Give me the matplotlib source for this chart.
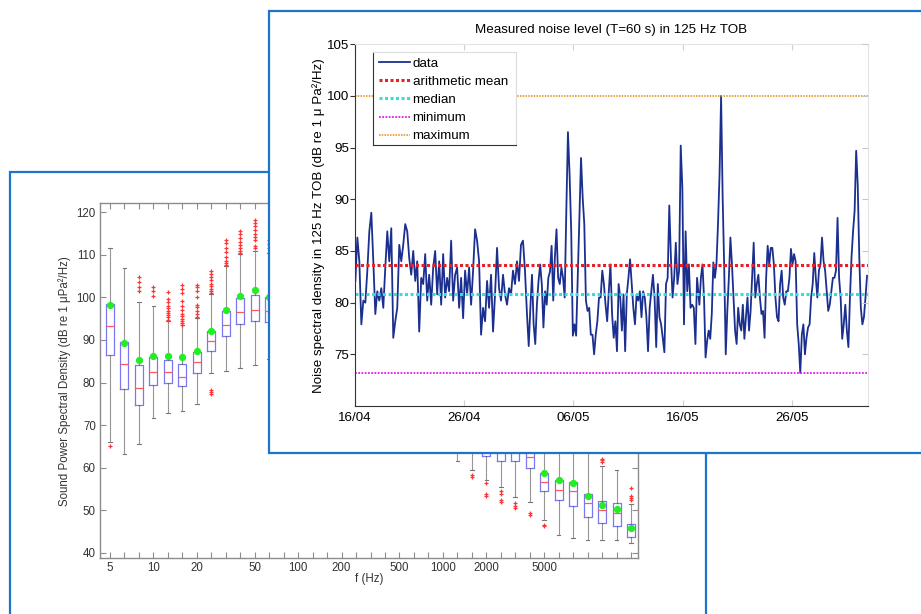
import datetime as dt
import numpy as np
import matplotlib
matplotlib.use('Agg')
import matplotlib.pyplot as plt
import matplotlib.dates as mdates
from matplotlib.patches import Rectangle

plt.rcParams['font.family'] = ['Liberation Sans', 'DejaVu Sans']

# ------------------------------------------------------------------ left chart data (third-octave bands)
band_freqs = [5, 6.3, 8, 10, 12.5, 16, 20, 25, 31.5, 40, 50, 63, 80, 100, 125, 160, 200, 250,
              315, 400, 500, 630, 800, 1000, 1250, 1600, 2000, 2500, 3150, 4000, 5000, 6300,
              8000, 10000, 12500, 16000, 20000]
labelled_freqs = [5, 10, 20, 50, 100, 200, 500, 1000, 2000, 5000]

box_whislo = [66.0, 63.3, 65.5, 71.6, 72.8, 73.4, 74.9, 82.2, 82.8, 83.4, 84.2, 85.5, 84.0, 82.0,
              79.0, 77.0, 75.0, 73.0, 71.0, 69.0, 67.5, 66.0, 64.5, 64.0, 61.5, 59.5, 57.0, 55.4,
              53.2, 51.9, 47.6, 44.2, 43.4, 43.0, 42.9, 42.9, 42.3]
box_q1 = [86.5, 78.4, 74.8, 79.3, 79.9, 79.1, 82.2, 87.3, 91.0, 93.7, 94.5, 94.2, 93.0, 91.0,
          88.5, 86.0, 83.5, 81.0, 78.5, 76.0, 73.5, 71.5, 70.0, 68.5, 67.0, 65.0, 62.8, 61.5,
          61.6, 59.9, 54.5, 52.3, 51.1, 48.5, 47.0, 46.2, 43.8]
box_med = [93.3, 84.3, 78.7, 82.5, 82.5, 81.4, 84.7, 89.7, 93.6, 96.5, 97.1, 96.9, 96.0, 94.0,
           92.0, 89.5, 87.0, 84.5, 82.0, 79.5, 77.0, 75.0, 73.0, 71.5, 70.0, 68.0, 66.0, 64.5,
           64.0, 62.5, 56.6, 54.8, 54.4, 51.6, 50.1, 49.3, 45.6]
box_q3 = [98.4, 89.4, 84.2, 86.1, 85.3, 84.4, 87.1, 92.2, 96.9, 99.8, 100.6, 100.2, 99.0, 97.5,
          95.5, 93.0, 90.5, 88.0, 85.5, 83.0, 80.5, 78.5, 76.5, 75.0, 73.5, 71.5, 69.5, 68.0,
          67.0, 65.5, 58.75, 57.2, 56.7, 53.8, 52.1, 51.6, 46.8]
box_whishi = [111.5, 107.0, 99.0, 97.9, 94.5, 93.4, 95.1, 100.8, 107.4, 110.1, 111.0, 110.4,
              109.0, 107.5, 105.0, 103.0, 100.5, 98.0, 95.5, 93.0, 90.5, 88.0, 86.0, 84.0, 82.0,
              80.0, 78.0, 76.0, 75.0, 73.0, 66.5, 65.0, 64.5, 63.8, 60.5, 59.5, 51.5]
box_mean = [98.1, 89.3, 85.2, 86.3, 86.3, 86.1, 87.3, 92.2, 97.1, 100.4, 101.8, 100.2, 99.5,
            98.0, 96.0, 93.5, 91.0, 88.5, 86.0, 83.5, 81.0, 79.0, 77.0, 75.0, 73.5, 71.5, 69.5,
            68.0, 66.5, 65.0, 58.75, 57.2, 56.4, 53.3, 51.3, 50.3, 45.8]
box_fliers = [
    [65.0],
    [],
    [104.7, 103.7, 102.5, 101.4],
    [102.5, 101.5, 100.4],
    [101.2, 99.5, 98.8, 98.0, 97.4, 96.8, 96.3, 95.8, 95.3, 94.8],
    [102.9, 102.0, 101.0, 99.2, 98.0, 97.0, 96.2, 95.6, 95.0, 94.5, 94.0, 93.6],
    [102.9, 102.5, 101.6, 100.0, 98.3, 97.7, 96.8, 96.0, 95.5],
    [106.2, 105.5, 104.8, 104.0, 103.2, 102.6, 102.0, 101.4, 101.0, 78.3, 77.8, 77.3],
    [113.5, 112.8, 111.5, 110.6, 109.4, 108.6, 108.0, 107.6],
    [115.5, 114.8, 114.0, 113.0, 112.4, 111.6, 111.0, 110.4],
    [118.2, 117.5, 116.8, 115.8, 115.0, 114.2, 113.4, 112.0, 111.5],
    [113.5, 112.5, 111.5],
    [], [], [], [], [], [], [], [], [], [], [], [], [],
    [58.3, 57.9],
    [56.4, 53.8, 53.3],
    [54.6, 53.8, 52.4, 51.9],
    [51.6, 51.0, 50.4],
    [49.4, 48.9],
    [46.6, 46.2],
    [], [], [],
    [62.1, 61.7, 61.3],
    [],
    [55.2, 53.3, 52.9, 52.3],
]

# ------------------------------------------------------------------ right chart data (time series)
start_date = dt.datetime(2013, 4, 16)
end_day = 46.93
seg1_span = (0.06, 15.76)
seg1_values = [82.1, 86.3, 84.0, 77.9, 80.2, 80.0, 83.1, 86.9, 88.7, 84.0, 78.9, 81.1, 80.2, 81.4,
               79.5, 83.4, 86.9, 84.0, 87.2, 76.6, 78.2, 79.5, 85.6, 84.0, 85.6, 87.6, 86.9, 84.3,
               82.7, 85.0, 82.1, 84.0, 77.2, 82.4, 81.8, 84.7, 80.2, 82.7, 79.8, 83.4, 85.0, 80.8,
               84.0, 79.8, 84.7, 80.5, 82.4, 81.1, 86.0, 80.2, 82.7, 83.4, 79.5, 82.4, 78.5, 83.1,
               80.8, 83.4, 79.8, 83.1, 87.1, 86.0, 84.0, 76.9, 79.5, 78.2, 82.1, 79.5, 82.7, 77.2,
               80.8, 85.3, 81.4, 80.2, 82.7, 80.8, 79.8, 81.4, 80.8, 83.1, 81.8, 84.0, 82.1, 85.6,
               86.0, 83.1, 78.9]
seg2_span = (15.92, 31.32)
seg2_values = [75.8, 79.5, 82.7, 77.9, 76.0, 79.8, 82.1, 83.7, 81.8, 77.6, 81.1, 79.8, 82.4, 83.0,
               85.5, 80.2, 84.4, 87.1, 82.4, 81.8, 83.4, 82.4, 80.5, 88.9, 96.5, 92.4, 86.9, 76.8,
               77.9, 76.8, 82.4, 88.2, 94.0, 90.2, 87.6, 80.2, 79.2, 79.5, 76.9, 76.9, 75.0, 76.9,
               78.2, 80.5, 80.5, 83.1, 81.8, 79.8, 78.2, 81.1, 83.7, 78.9, 76.6, 78.2, 75.3, 81.8,
               80.5, 77.3, 80.8, 75.3, 80.8, 82.4, 84.2, 81.8, 79.5, 77.9, 80.8, 80.2, 81.1, 78.6,
               81.1, 80.5, 78.6, 75.3, 79.5, 81.1, 82.7, 80.5, 75.7, 81.8, 78.6, 77.9, 76.6, 75.2,
               81.8, 82.4, 89.4, 84.4, 80.5, 82.4, 85.8, 81.8, 83.1, 95.2, 91.1, 77.9, 86.9, 81.1,
               83.7, 79.5, 79.8, 79.5, 76.0, 82.4]
seg3_span = (31.53, 46.87)
seg3_values = [79.8, 82.4, 83.7, 80.5, 74.7, 76.3, 77.3, 76.5, 78.9, 83.9, 82.4, 83.7, 87.6, 92.4,
               100.0, 90.2, 83.4, 75.0, 79.2, 82.4, 86.3, 83.7, 80.5, 77.3, 76.0, 79.5, 77.9, 77.3,
               79.8, 76.5, 78.6, 80.5, 77.3, 79.2, 82.4, 85.8, 80.5, 81.8, 82.7, 80.5, 78.9, 79.2,
               76.6, 82.4, 85.5, 83.7, 85.3, 85.3, 83.7, 80.5, 78.6, 78.2, 81.8, 83.1, 80.5, 79.8,
               81.1, 81.1, 82.4, 85.2, 83.7, 84.7, 84.0, 77.9, 76.0, 73.2, 76.9, 77.9, 75.0, 76.6,
               77.6, 77.9, 80.5, 81.8, 84.8, 82.4, 80.5, 83.1, 83.7, 86.3, 84.0, 83.1, 81.1, 79.2,
               79.8, 81.1, 82.4, 82.4, 83.1, 88.2, 82.4, 80.5, 76.5, 77.9, 79.8, 77.3, 75.7, 80.5,
               84.4, 86.9, 88.9, 94.7, 91.4, 84.4, 79.5, 77.9, 78.6, 80.5, 82.6]
mean_level = 83.65
median_level = 80.8
min_level = 73.2
max_level = 100.0
date_ticks = [dt.datetime(2013, 4, 16), dt.datetime(2013, 4, 26), dt.datetime(2013, 5, 6),
              dt.datetime(2013, 5, 16), dt.datetime(2013, 5, 26)]

# ------------------------------------------------------------------ figure
W, H = 921, 614
fig = plt.figure(figsize=(W / 100, H / 100), dpi=100)
fig.patch.set_facecolor('white')


def frac(x0, y0, x1, y1):
    """pixel box (top-left origin) -> figure fraction rect"""
    return [x0 / W, 1 - y1 / H, (x1 - x0) / W, (y1 - y0) / H]


frame_blue = '#1c75cc'

# left panel frame
r = frac(10, 171.7, 706, 640)
fig.add_artist(Rectangle((r[0], r[1]), r[2], r[3], transform=fig.transFigure,
                         facecolor='white', edgecolor=frame_blue, lw=1.6, zorder=0.5))

# left boxplot axes
axL = fig.add_axes(frac(100, 203.3, 638, 558.3))
axL.set_zorder(1)
stats = []
for i in range(len(band_freqs)):
    stats.append(dict(whislo=box_whislo[i], q1=box_q1[i], med=box_med[i], q3=box_q3[i],
                      whishi=box_whishi[i], mean=box_mean[i], fliers=box_fliers[i]))
axL.bxp(stats, positions=list(range(len(band_freqs))), widths=0.55, showmeans=True,
        boxprops=dict(color='#7a78f0', lw=0.9),
        medianprops=dict(color='#ff5a5a', lw=0.9),
        whiskerprops=dict(color='#444444', ls=(0, (1, 0.8)), lw=0.8),
        capprops=dict(color='#777777', lw=0.8), capwidths=0.25,
        flierprops=dict(marker='+', markeredgecolor='#ff3535', markersize=3.5, markeredgewidth=0.9),
        meanprops=dict(marker='o', markerfacecolor='#22ee22', markeredgecolor='#22ee22',
                       markersize=4.2))
axL.set_xlim(-0.69, 36.48)
axL.set_ylim(38.7, 122.1)
axL.set_xticks(list(range(len(band_freqs))))
axL.set_xticklabels([(f'{f:g}' if f in labelled_freqs else '') for f in band_freqs])
axL.set_yticks(np.arange(40, 121, 10))
for s in axL.spines.values():
    s.set_color('#8c8c8c')
    s.set_linewidth(1.0)
axL.tick_params(direction='in', length=4, width=0.8, color='#8c8c8c', labelcolor='#333333',
                labelsize=8.3, top=True, right=True, pad=3)
axL.set_ylabel('Sound Power Spectral Density (dB re 1 μPa²/Hz)', fontsize=8.3,
               color='#333333', labelpad=4)
axL.set_xlabel('f (Hz)', fontsize=8.3, color='#333333', labelpad=-1)

# right panel frame
r = frac(268.7, 10.7, 960, 453.3)
fig.add_artist(Rectangle((r[0], r[1]), r[2], r[3], transform=fig.transFigure,
                         facecolor='white', edgecolor=frame_blue, lw=1.6, zorder=2))

# right time-series axes
axR = fig.add_axes(frac(354.7, 44.3, 867.7, 406))
axR.set_zorder(3)
times = []
values = []
for span, vals in [(seg1_span, seg1_values), (seg2_span, seg2_values), (seg3_span, seg3_values)]:
    days = np.linspace(span[0], span[1], len(vals))
    times += [start_date + dt.timedelta(days=float(d)) for d in days]
    values += vals

l_data, = axR.plot(times, values, color='#1b2f8f', lw=1.3, label='data')
dot = (0, (1, 0.8))
l_mean = axR.axhline(mean_level, color='#e8202a', ls=dot, lw=2.2, label='arithmetic mean')
l_med = axR.axhline(median_level, color='#35dede', ls=dot, lw=2.2, label='median')
l_min = axR.axhline(min_level, color='#e020e0', ls=dot, lw=1.3, label='minimum')
l_max = axR.axhline(max_level, color='#e08a10', ls=dot, lw=1.1, label='maximum')
axR.set_xlim(start_date, start_date + dt.timedelta(days=end_day))
axR.set_ylim(70, 105)
axR.set_yticks(np.arange(75, 106, 5))
axR.set_xticks(date_ticks)
axR.xaxis.set_major_formatter(mdates.DateFormatter('%d/%m'))
axR.spines['left'].set_color('#333333')
axR.spines['bottom'].set_color('#333333')
axR.spines['top'].set_color('#e4e4e4')
axR.spines['right'].set_color('#e4e4e4')
axR.tick_params(axis='y', direction='out', length=3.5, width=0.8, color='#333333',
                labelsize=9.6, pad=0.5)
axR.tick_params(axis='x', direction='in', length=4, width=0.8, color='#d0d0d0',
                labelsize=9.6, top=True, pad=4)
axR.set_title('Measured noise level (T=60 s) in 125 Hz TOB', fontsize=9.6, pad=8)
axR.set_ylabel('Noise spectral density in 125 Hz TOB (dB re 1 μ Pa²/Hz)', fontsize=9.6,
               labelpad=1)

axT = axR.twinx()
axT.set_zorder(3.1)
axT.set_ylim(70, 105)
axT.set_yticks(np.arange(75, 106, 5))
axT.tick_params(axis='y', direction='in', length=4, width=0.8, color='#c8c8c8',
                labelright=False)
for s in axT.spines.values():
    s.set_visible(False)

# legend box
axLeg = fig.add_axes(frac(373.3, 51.7, 515.7, 145))
axLeg.set_zorder(4)
axLeg.set_facecolor('white')
axLeg.set_xticks([])
axLeg.set_yticks([])
axLeg.spines['left'].set_color('#333333')
axLeg.spines['bottom'].set_color('#333333')
axLeg.spines['top'].set_color('#dddddd')
axLeg.spines['right'].set_color('#dddddd')
axLeg.legend(handles=[l_data, l_mean, l_med, l_min, l_max],
             labels=['data', 'arithmetic mean', 'median', 'minimum', 'maximum'],
             loc='upper left', bbox_to_anchor=(0, 1), frameon=False, fontsize=9.6,
             handlelength=2.3, handletextpad=0.2, labelspacing=0.43, borderaxespad=0.2,
             borderpad=0.25)

fig.savefig('out.png', dpi=100)
